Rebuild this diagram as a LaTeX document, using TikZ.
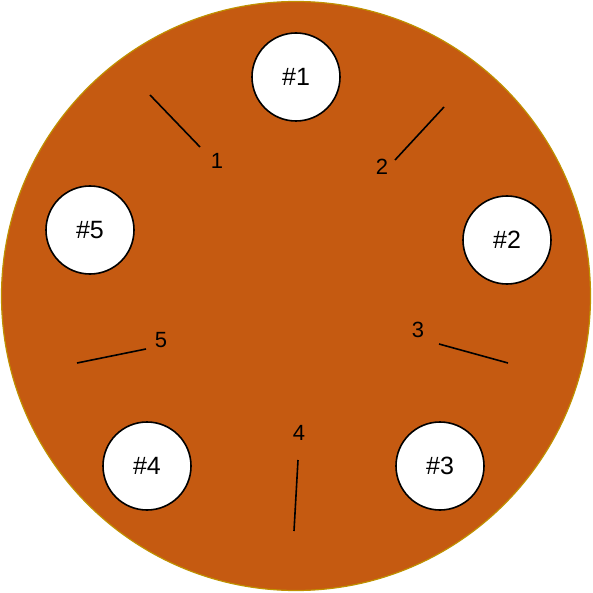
\documentclass[tikz,border=0pt]{standalone}
\usepackage{fontspec}
\setmainfont{Liberation Sans}
\definecolor{disc}{HTML}{C55A11}
\definecolor{rim}{HTML}{BF9000}
\begin{document}
\begin{tikzpicture}[x=1pt,y=-1pt,
  hole/.style={circle,draw=black,line width=1.6pt,fill=white,minimum size=88pt,inner sep=0pt,font=\fontsize{25}{29}\selectfont},
  lbl/.style={inner sep=0pt,font=\fontsize{22}{26}\selectfont},
  tick/.style={line width=1.6pt,draw=black}]
\useasboundingbox (0,0) rectangle (592,593);
\node[circle,draw=rim,line width=1.2pt,fill=disc,minimum size=589pt,inner sep=0pt] (disk) at (296,296) {};
\node[hole] (h1) at (296,77) {\#1};
\node[hole] (h2) at (507,240) {\#2};
\node[hole] (h3) at (440,466) {\#3};
\node[hole] (h4) at (147,466) {\#4};
\node[hole] (h5) at (90,230) {\#5};
\node[lbl] (l1) at (217,161) {1};
\node[lbl] (l2) at (382,167) {2};
\node[lbl] (l3) at (418,330) {3};
\node[lbl] (l4) at (299,433) {4};
\node[lbl] (l5) at (161,340) {5};
\coordinate (a1) at (150,95);  \coordinate (b1) at (200,147);
\coordinate (a2) at (444,107); \coordinate (b2) at (395,160);
\coordinate (a3) at (439,344); \coordinate (b3) at (508,363);
\coordinate (a4) at (298,460); \coordinate (b4) at (294,531);
\coordinate (a5) at (77,363);  \coordinate (b5) at (146,349);
\draw[tick] (a1) -- (b1);
\draw[tick] (a2) -- (b2);
\draw[tick] (a3) -- (b3);
\draw[tick] (a4) -- (b4);
\draw[tick] (a5) -- (b5);
\end{tikzpicture}
\end{document}
